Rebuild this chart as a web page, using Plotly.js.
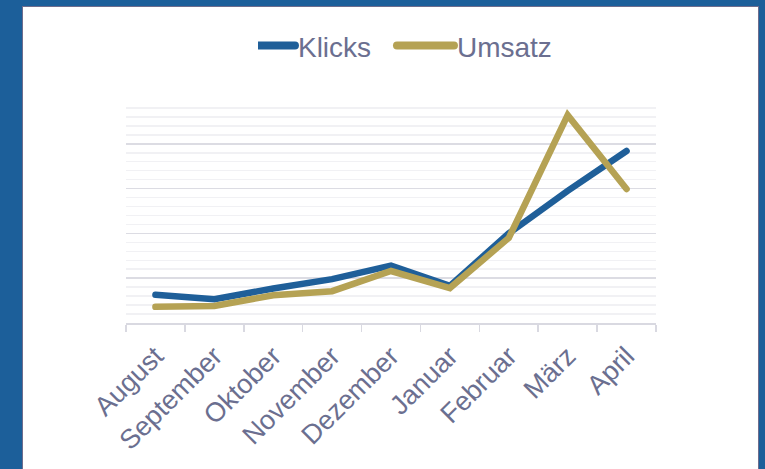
<!DOCTYPE html>
<html>
<head>
<meta charset="utf-8">
<script src="https://cdn.plot.ly/plotly-3.0.1.min.js"></script>
<style>
  html, body { margin:0; padding:0; background:#1c5f9a; width:765px; height:469px; overflow:hidden; }
  #panel { position:absolute; left:22px; top:6px; width:735px; height:480px; background:#ffffff; border:1.5px solid #6e6d8d; }
  #chart { position:absolute; left:0; top:0; width:765px; height:469px; }
  .js-line { stroke-linecap: round; }
  .legendlines path { stroke-linecap: round; }
</style>
</head>
<body>
<div id="panel"></div>
<div id="chart"></div>
<script>
const months = ["August","September","Oktober","November","Dezember","Januar","Februar","März","April"];
const klicks = [63, 53, 77, 98, 128, 83, 200, 295, 384];
const umsatz = [36, 38, 62, 71, 116, 78, 190, 464, 299];

const textColor = "#6b6f90";

const traces = [
  { type:"scatter", mode:"lines", name:"Klicks", x:months, y:klicks,
    line:{color:"#1f5f99", width:6.5} },
  { type:"scatter", mode:"lines", name:"Umsatz", x:months, y:umsatz,
    line:{color:"#b5a254", width:6.5} }
];

const layout = {
  width:765, height:469,
  margin:{l:126, r:109, t:99, b:146, pad:0},
  paper_bgcolor:"rgba(0,0,0,0)",
  plot_bgcolor:"rgba(0,0,0,0)",
  font:{family:"Liberation Sans, Arial, sans-serif", color:textColor},
  showlegend:true,
  legend:{orientation:"h", x:0.249, xanchor:"left", y:1.237, yanchor:"middle",
          font:{size:28, color:textColor}, entrywidth:114, entrywidthmode:"pixels",
          bgcolor:"rgba(0,0,0,0)"},
  xaxis:{type:"category", range:[-0.5, 8.5], tickson:"boundaries",
         ticks:"outside", ticklen:7, tickcolor:"#d9d9e1", tickwidth:1.5,
         showline:true, linecolor:"#d9d9e1", linewidth:1.5,
         showgrid:false, tickangle:-45, tickfont:{size:27, color:textColor},
         ticklabelstandoff:5, fixedrange:true},
  yaxis:{range:[0,500], dtick:100, showticklabels:false, ticks:"",
         showgrid:true, gridcolor:"#dcdce3", gridwidth:1.5, zeroline:false,
         minor:{dtick:20, showgrid:true, gridcolor:"#f1f1f4", gridwidth:1.5},
         fixedrange:true}
};

Plotly.newPlot("chart", traces, layout, {displayModeBar:false, staticPlot:true}).then(() => {
  document.querySelectorAll(".legendlines path").forEach(p => {
    p.setAttribute("d","M-20,0h57");
    p.style.strokeWidth = "8px";
  });
});
</script>
</body>
</html>
